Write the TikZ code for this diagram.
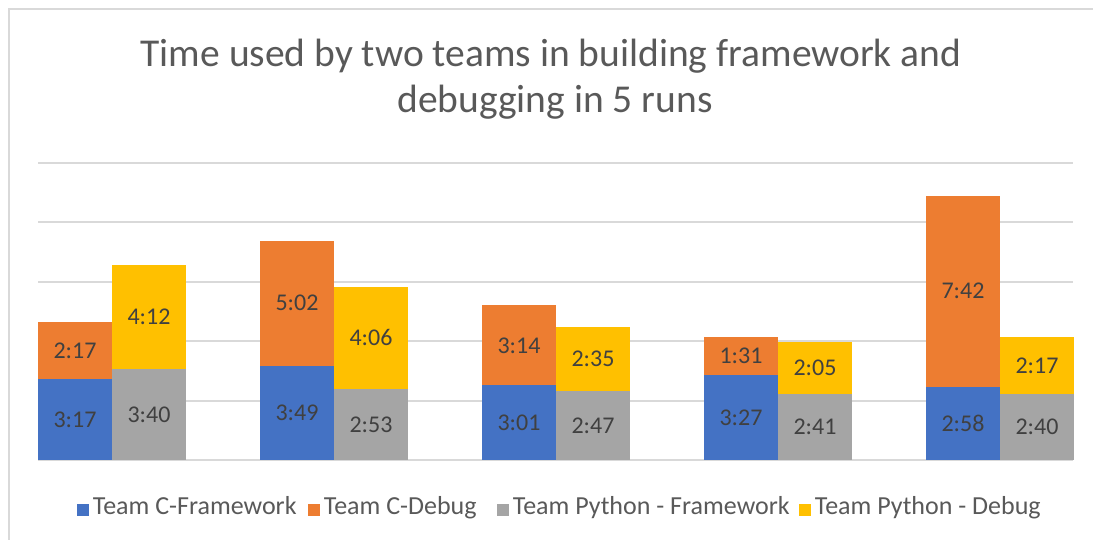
\documentclass[tikz,border=0pt]{standalone}
\usepackage{fontspec}
\setmainfont{Carlito}
\usetikzlibrary{positioning}
\definecolor{cblue}{HTML}{4472C4}
\definecolor{corange}{HTML}{ED7D31}
\definecolor{cgray}{HTML}{A5A5A5}
\definecolor{cyellow}{HTML}{FFC000}
\definecolor{linegray}{HTML}{D9D9D9}
\definecolor{labelgray}{HTML}{404040}
\definecolor{titlegray}{HTML}{595959}

\begin{document}
\begin{tikzpicture}[
  x=1pt, y=-1pt,
  gridline/.style={draw=linegray, line width=2pt},
  vallabel/.style={text=labelgray, font=\fontsize{24}{28}\selectfont, inner sep=0pt},
  titletext/.style={text=titlegray, font=\fontsize{39.5}{45}\selectfont, inner sep=0pt, anchor=base},
  legkey/.style={rectangle, fill=#1, minimum size=12pt, inner sep=0pt},
  legtext/.style={text=titlegray, font=\fontsize{26}{30}\selectfont, inner sep=0pt,
                  text height=11pt, text depth=1pt, anchor=west}
]
\useasboundingbox (0,0) rectangle (1093,540);

% Chart frame
\draw[gridline] (9,540) -- (9,9) -- (1093,9);

% Title
\node[titletext] (title1) at (551,67) {Time used by two teams in building framework and};
\node[titletext] (title2) at (555,113) {debugging in 5 runs};

% Grid
\foreach \k in {0,...,5}
  \draw[gridline] (38,{460-59.4*\k}) -- (1073,{460-59.4*\k});

% Bars: run / C frame / C debug / Py frame / Py debug (seconds), then labels
\foreach \run/\cf/\cd/\pf/\pd/\lcf/\lcd/\lpf/\lpd in {
    0/197/137/220/252/3:17/2:17/3:40/4:12,
    1/229/302/173/246/3:49/5:02/2:53/4:06,
    2/181/194/167/155/3:01/3:14/2:47/2:35,
    3/207/91/161/125/3:27/1:31/2:41/2:05,
    4/178/462/160/137/2:58/7:42/2:40/2:17}{
  \pgfmathsetmacro\xa{38+222*\run}
  \pgfmathsetmacro\xb{\xa+74}
  \pgfmathsetmacro\xc{\xa+148}
  \pgfmathsetmacro\ya{460-0.4125*\cf}
  \pgfmathsetmacro\yb{\ya-0.4125*\cd}
  \pgfmathsetmacro\yc{460-0.4125*\pf}
  \pgfmathsetmacro\yd{\yc-0.4125*\pd}
  \fill[cblue] (\xa,460) rectangle (\xb,\ya);
  \fill[corange] (\xa,\ya) rectangle (\xb,\yb);
  \fill[cgray] (\xb,460) rectangle (\xc,\yc);
  \fill[cyellow] (\xb,\yc) rectangle (\xc,\yd);
  \node[vallabel] (cf\run) at ({(\xa+\xb)/2},{(460+\ya)/2}) {\lcf};
  \node[vallabel] (cd\run) at ({(\xa+\xb)/2},{(\ya+\yb)/2}) {\lcd};
  \node[vallabel] (pf\run) at ({(\xb+\xc)/2},{(460+\yc)/2}) {\lpf};
  \node[vallabel] (pd\run) at ({(\xb+\xc)/2},{(\yc+\yd)/2}) {\lpd};
}

% Legend
\node[legkey=cblue] (keycf) at (82.5,509.5) {};
\node[legtext, right=4pt of keycf] (legcf) {Team C-Framework};
\node[legkey=corange] (keycd) at (313.5,509.5) {};
\node[legtext, right=4pt of keycd] (legcd) {Team C-Debug};
\node[legkey=cgray] (keypf) at (502.5,509.5) {};
\node[legtext, right=4pt of keypf] (legpf) {Team Python - Framework};
\node[legkey=cyellow] (keypd) at (804.5,509.5) {};
\node[legtext, right=4pt of keypd] (legpd) {Team Python - Debug};
\end{tikzpicture}
\end{document}
